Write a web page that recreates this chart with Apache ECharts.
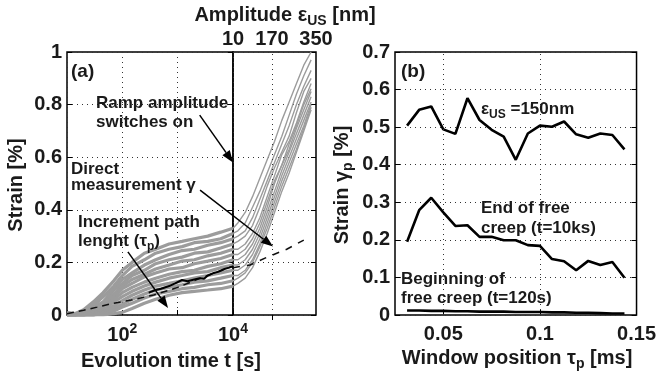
<!DOCTYPE html>
<html>
<head>
<meta charset="utf-8">
<script src="https://cdn.jsdelivr.net/npm/echarts@6/dist/echarts.min.js"></script>
<style>
  html, body { margin: 0; padding: 0; background: #fff; }
  #chart { width: 659px; height: 379px; }
</style>
</head>
<body>
<div id="chart"></div>
<script>
  // panel (a), free creep part: evolution time t [s]
  var creepTimes = [10, 14, 20, 30, 45, 70, 100, 150, 250, 400, 700, 1200, 2000, 3500, 6000, 10000]
  var creepStrain = [
    [0.00, 0.005, 0.02, 0.05, 0.085, 0.13, 0.17, 0.20, 0.235, 0.25, 0.27, 0.28, 0.29, 0.30, 0.315, 0.33],
    [0.00, 0.00, 0.015, 0.045, 0.07, 0.11, 0.15, 0.185, 0.21, 0.235, 0.25, 0.26, 0.275, 0.28, 0.29, 0.31],
    [0.00, 0.00, 0.01, 0.035, 0.07, 0.10, 0.135, 0.16, 0.19, 0.21, 0.23, 0.245, 0.25, 0.265, 0.275, 0.29],
    [0.01, 0.005, 0.01, 0.03, 0.05, 0.095, 0.12, 0.15, 0.17, 0.195, 0.21, 0.22, 0.235, 0.24, 0.255, 0.27],
    [0.00, 0.00, 0.005, 0.02, 0.045, 0.08, 0.11, 0.135, 0.155, 0.175, 0.19, 0.205, 0.21, 0.225, 0.235, 0.25],
    [0.00, 0.00, 0.00, 0.015, 0.04, 0.07, 0.10, 0.12, 0.145, 0.16, 0.175, 0.18, 0.195, 0.205, 0.215, 0.23],
    [0.00, 0.00, 0.00, 0.01, 0.03, 0.06, 0.085, 0.105, 0.125, 0.14, 0.155, 0.165, 0.17, 0.185, 0.195, 0.21],
    [0.00, 0.00, 0.00, 0.005, 0.02, 0.05, 0.07, 0.09, 0.11, 0.125, 0.14, 0.15, 0.16, 0.165, 0.18, 0.19],
    [0.00, 0.00, 0.00, 0.00, 0.015, 0.035, 0.055, 0.075, 0.095, 0.11, 0.12, 0.13, 0.14, 0.15, 0.16, 0.17],
    [0.00, 0.00, 0.00, 0.00, 0.01, 0.025, 0.04, 0.06, 0.08, 0.095, 0.105, 0.115, 0.125, 0.13, 0.14, 0.15],
    [0.00, 0.00, 0.00, 0.00, 0.005, 0.015, 0.03, 0.045, 0.065, 0.08, 0.09, 0.10, 0.105, 0.115, 0.12, 0.13],
    [0.00, 0.00, 0.00, 0.00, 0.00, 0.005, 0.01, 0.025, 0.045, 0.06, 0.075, 0.085, 0.09, 0.095, 0.10, 0.11]
  ]

  // panel (a), ramp part: amplitude eps_US [nm]
  var rampAmps = [10, 30, 60, 90, 120, 150, 180, 210, 240, 270, 300, 330]
  var rampStrain = [
    [0.33, 0.35, 0.39, 0.45, 0.52, 0.59, 0.66, 0.74, 0.81, 0.88, 0.95, 1.00],
    [0.31, 0.32, 0.35, 0.41, 0.47, 0.54, 0.61, 0.68, 0.76, 0.84, 0.91, 0.97],
    [0.29, 0.30, 0.32, 0.37, 0.44, 0.51, 0.58, 0.65, 0.72, 0.80, 0.87, 0.93],
    [0.27, 0.28, 0.30, 0.34, 0.41, 0.49, 0.56, 0.62, 0.68, 0.77, 0.85, 0.90],
    [0.25, 0.25, 0.27, 0.31, 0.37, 0.45, 0.53, 0.61, 0.66, 0.73, 0.81, 0.88],
    [0.23, 0.23, 0.25, 0.29, 0.35, 0.43, 0.51, 0.57, 0.65, 0.72, 0.80, 0.86],
    [0.21, 0.21, 0.23, 0.27, 0.33, 0.41, 0.50, 0.57, 0.63, 0.71, 0.78, 0.85],
    [0.19, 0.19, 0.21, 0.25, 0.31, 0.39, 0.47, 0.55, 0.62, 0.69, 0.76, 0.83],
    [0.17, 0.17, 0.19, 0.23, 0.29, 0.37, 0.45, 0.53, 0.60, 0.67, 0.74, 0.81],
    [0.15, 0.15, 0.17, 0.21, 0.27, 0.35, 0.43, 0.51, 0.58, 0.65, 0.72, 0.80],
    [0.13, 0.14, 0.16, 0.20, 0.26, 0.33, 0.41, 0.49, 0.56, 0.63, 0.71, 0.79],
    [0.11, 0.12, 0.14, 0.18, 0.24, 0.31, 0.39, 0.47, 0.54, 0.62, 0.70, 0.78]
  ]

  // increment path length (black solid)
  var pathTimes = [300, 400, 500, 700, 900, 1200, 1500, 2000, 2500, 3000, 3500, 4500, 5500, 7000, 8500, 10000]
  var pathStrain = [0.085, 0.095, 0.10, 0.11, 0.12, 0.133, 0.128, 0.135, 0.14, 0.138, 0.15, 0.16, 0.165, 0.175, 0.18, 0.185]

  // direct measurement (dashed)
  var directTimes = [10, 20, 35, 70, 145, 370, 1000, 3000, 10000]
  var directStrain = [0.005, 0.018, 0.03, 0.045, 0.057, 0.076, 0.105, 0.145, 0.186]
  var directAmps = [10, 80, 150, 230, 300]
  var directRamp = [0.18, 0.19, 0.22, 0.25, 0.285]

  // panel (b)
  var windowPos = [0.03125, 0.0375, 0.04375, 0.05, 0.05625, 0.0625, 0.06875, 0.075, 0.08125, 0.0875,
    0.09375, 0.1, 0.10625, 0.1125, 0.11875, 0.125, 0.13125, 0.1375, 0.14375]
  var strain150nm = [0.504, 0.546, 0.555, 0.494, 0.482, 0.577, 0.519, 0.493, 0.475, 0.413,
    0.483, 0.504, 0.501, 0.515, 0.481, 0.472, 0.483, 0.479, 0.441]
  var strainEnd = [0.195, 0.279, 0.312, 0.273, 0.237, 0.239, 0.208, 0.208, 0.199, 0.199,
    0.186, 0.184, 0.149, 0.143, 0.119, 0.144, 0.133, 0.141, 0.099]
  var strainBegin = [0.012, 0.012, 0.011, 0.011, 0.010, 0.010, 0.009, 0.009, 0.009, 0.008,
    0.008, 0.008, 0.007, 0.007, 0.006, 0.006, 0.005, 0.004, 0.004]

  var FONT = 'Liberation Sans, Arial, sans-serif'
  var GRAY = '#9c9c9c'
  var DOT = { color: '#333', width: 1, type: [1, 4] }

  var pairs = function (xs, ys) {
    return xs.map(function (x, i) { return [x, ys[i]] })
  }

  var tickLabel = { color: '#1a1a1a', fontFamily: FONT, fontWeight: 'bold', fontSize: 20 }

  var valueY = function (gridIndex, max, splits, showLabel, pos) {
    return {
      type: 'value', gridIndex: gridIndex, min: 0, max: max, splitNumber: splits, position: pos,
      axisLine: { show: false },
      axisTick: { show: true, inside: true, length: 5, lineStyle: { color: '#000' } },
      axisLabel: Object.assign({ show: showLabel, margin: 5 }, tickLabel),
      splitLine: { show: pos === 'left', lineStyle: DOT }
    }
  }

  var series = []
  creepStrain.forEach(function (row) {
    series.push({
      type: 'line', xAxisIndex: 0, yAxisIndex: 0, data: pairs(creepTimes, row),
      showSymbol: false, lineStyle: { color: GRAY, width: 3.2 }, z: 2
    })
  })
  rampStrain.forEach(function (row) {
    series.push({
      type: 'line', xAxisIndex: 1, yAxisIndex: 2, data: pairs(rampAmps, row),
      showSymbol: false, lineStyle: { color: GRAY, width: 1.4 }, z: 2
    })
  })
  series.push({
    type: 'line', xAxisIndex: 0, yAxisIndex: 0, data: pairs(directTimes, directStrain),
    showSymbol: false, lineStyle: { color: '#111', width: 1.5, type: [7, 5] }, z: 3
  })
  series.push({
    type: 'line', xAxisIndex: 0, yAxisIndex: 0, data: pairs(pathTimes, pathStrain),
    showSymbol: false, lineStyle: { color: '#000', width: 2 }, z: 4
  })
  series.push({
    type: 'line', xAxisIndex: 1, yAxisIndex: 2, data: pairs(directAmps, directRamp),
    showSymbol: false, lineStyle: { color: '#111', width: 1.5, type: [7, 7] }, z: 3,
    markLine: { silent: true, symbol: 'none', animation: false, label: { show: false },
      lineStyle: DOT, data: [{ xAxis: 170 }] }
  })
  var bLine = { color: '#000', width: 2.6 }
  series.push({ type: 'line', xAxisIndex: 2, yAxisIndex: 4, data: pairs(windowPos, strain150nm), showSymbol: false, lineStyle: bLine })
  series.push({ type: 'line', xAxisIndex: 2, yAxisIndex: 4, data: pairs(windowPos, strainEnd), showSymbol: false, lineStyle: bLine })
  series.push({
    type: 'line', xAxisIndex: 2, yAxisIndex: 4, data: pairs(windowPos, strainBegin), showSymbol: false, lineStyle: bLine,
    markLine: { silent: true, symbol: 'none', animation: false, label: { show: false },
      lineStyle: DOT, data: [{ xAxis: 0.05 }, { xAxis: 0.1 }] }
  })

  var box = { show: true, borderColor: '#000', borderWidth: 1.5, backgroundColor: 'transparent' }

  var option = {
    animation: false,
    backgroundColor: '#fff',
    grid: [
      Object.assign({ left: 67, top: 52, width: 166, height: 263 }, box),
      Object.assign({ left: 233, top: 52, width: 83, height: 263 }, box),
      Object.assign({ left: 395, top: 52, width: 244, height: 263 }, box)
    ],
    xAxis: [
      {
        type: 'log', logBase: 10, gridIndex: 0, min: 10, max: 10000,
        axisLine: { show: false },
        axisTick: { show: true, inside: true, length: 5, lineStyle: { color: '#000' } },
        splitLine: { show: true, lineStyle: DOT },
        axisLabel: {
          margin: 7,
          formatter: function (v) {
            var p = Math.round(Math.log10(v))
            return (p === 2 || p === 4) ? '{b|10}{s|' + p + '}' : ''
          },
          rich: {
            b: { fontFamily: FONT, fontWeight: 'bold', fontSize: 20, color: '#1a1a1a', lineHeight: 26 },
            s: { fontFamily: FONT, fontWeight: 'bold', fontSize: 14, color: '#1a1a1a', lineHeight: 13, verticalAlign: 'top' }
          }
        }
      },
      {
        type: 'value', gridIndex: 1, min: 10, max: 350, position: 'top',
        axisLine: { show: false },
        axisTick: { show: true, inside: true, length: 5, customValues: [170], lineStyle: { color: '#000' } },
        splitLine: { show: false },
        axisLabel: Object.assign({ margin: 3, customValues: [10, 170, 350] }, tickLabel)
      },
      {
        type: 'value', gridIndex: 2, min: 0.025, max: 0.15,
        axisLine: { show: false },
        axisTick: { show: true, inside: true, length: 5, customValues: [0.05, 0.1], lineStyle: { color: '#000' } },
        splitLine: { show: false },
        axisLabel: Object.assign({ margin: 9, customValues: [0.05, 0.1, 0.15] }, tickLabel)
      }
    ],
    yAxis: [
      valueY(0, 1, 5, true, 'left'),
      valueY(0, 1, 5, false, 'right'),
      valueY(1, 1, 5, false, 'left'),
      valueY(1, 1, 5, false, 'right'),
      valueY(2, 0.7, 7, true, 'left'),
      valueY(2, 0.7, 7, false, 'right')
    ],
    series: series
  }
  option.yAxis[2].axisTick.show = false

  var chart = echarts.init(document.getElementById('chart'))
  chart.setOption(option)

  // text annotations
  var txt = function (x, y, text, size, extra) {
    var rich = {
      t: { fontFamily: FONT, fontWeight: 'bold', fontSize: size, fill: '#1a1a1a', lineHeight: size + 6 },
      sub: { fontFamily: FONT, fontWeight: 'bold', fontSize: Math.round(size * 0.7), fill: '#1a1a1a', lineHeight: 12, verticalAlign: 'bottom' }
    }
    return Object.assign({
      type: 'text', x: x, y: y, silent: true, z: 100,
      style: { text: text, rich: rich, align: 'left', verticalAlign: 'middle', font: 'bold ' + size + 'px ' + FONT, fill: '#1a1a1a' }
    }, extra || {})
  }
  var centered = function (el) { el.style.align = 'center'; return el }

  var graphics = [
    txt(71, 72, '{t|(a)}', 19),
    txt(96, 103, '{t|Ramp amplitude}', 17),
    txt(96, 122, '{t|switches on}', 17),
    txt(71, 169, '{t|Direct}', 17),
    txt(71, 185, '{t|measurement γ}', 17),
    txt(78, 222, '{t|Increment path}', 17),
    txt(78, 241, '{t|lenght (τ}{sub|p}{t|)}', 17),
    txt(401, 72, '{t|(b)}', 19),
    txt(481, 109, '{t|ε}{sub|US}{t| =150nm}', 17),
    txt(481, 208, '{t|End of free}', 17),
    txt(481, 228, '{t|creep (t=10ks)}', 17),
    txt(401, 279, '{t|Beginning of}', 17),
    txt(401, 298, '{t|free creep (t=120s)}', 17),
    centered(txt(171, 361, '{t|Evolution time t [s]}', 20)),
    centered(txt(517, 358, '{t|Window position τ}{sub|p}{t| [ms]}', 20)),
    centered(txt(285, 15, '{t|Amplitude ε}{sub|US}{t| [nm]}', 20)),
    centered(txt(16, 185, '{t|Strain [%]}', 20, { rotation: Math.PI / 2 })),
    centered(txt(342, 185, '{t|Strain γ}{sub|p}{t| [%]}', 20, { rotation: Math.PI / 2 }))
  ]

  // arrows, anchored in data space
  var arrow = function (p0, p1) {
    var dx = p1[0] - p0[0], dy = p1[1] - p0[1]
    var len = Math.sqrt(dx * dx + dy * dy)
    var ux = dx / len, uy = dy / len
    var hl = 12, hw = 4.5
    var bx = p1[0] - ux * hl, by = p1[1] - uy * hl
    return [
      { type: 'line', silent: true, z: 99, shape: { x1: p0[0], y1: p0[1], x2: bx, y2: by }, style: { stroke: '#000', lineWidth: 1.5 } },
      { type: 'polygon', silent: true, z: 99, shape: { points: [p1, [bx - uy * hw, by + ux * hw], [bx + uy * hw, by - ux * hw]] }, style: { fill: '#000' } }
    ]
  }
  var inA = function (p) { return chart.convertToPixel({ xAxisIndex: 0, yAxisIndex: 0 }, p) }
  var inRamp = function (p) { return chart.convertToPixel({ xAxisIndex: 1, yAxisIndex: 2 }, p) }

  graphics = graphics
    .concat(arrow(inA([2500, 0.76]), inA([10000, 0.58])))
    .concat(arrow(inA([2540, 0.475]), inRamp([174, 0.26])))
    .concat(arrow(inA([126, 0.24]), inA([670, 0.027])))

  chart.setOption({ graphic: graphics })
</script>
</body>
</html>
